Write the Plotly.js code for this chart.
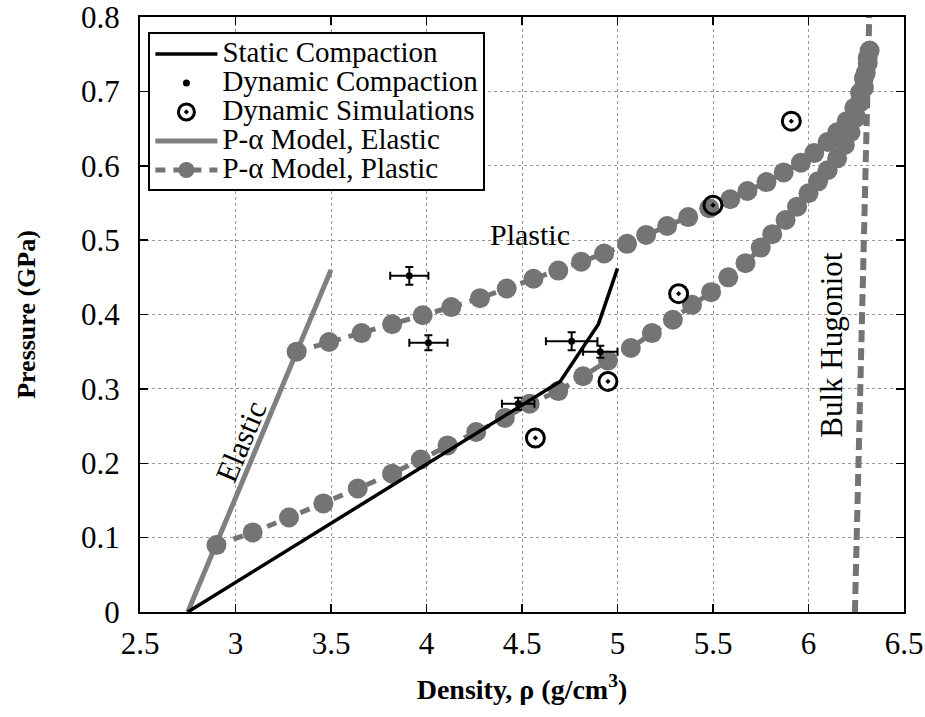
<!DOCTYPE html>
<html>
<head>
<meta charset="utf-8">
<script src="https://cdn.plot.ly/plotly-3.0.1.min.js"></script>
<style>html,body{margin:0;padding:0;background:#fff;}#chart{width:925px;height:717px;}</style>
</head>
<body>
<div id="chart"></div>
<script>
// ---- data ----
const staticX = [2.75, 4.70, 4.90, 5.00];
const staticY = [0.0, 0.310, 0.387, 0.462];

const dynX = [3.91, 4.01, 4.48, 4.76, 4.91];
const dynY = [0.452, 0.362, 0.280, 0.364, 0.350];
const dynXErr = [0.10, 0.10, 0.085, 0.135, 0.09];
const dynYErr = [0.012, 0.010, 0.008, 0.012, 0.008];

const simX = [4.57, 4.95, 5.32, 5.50, 5.91];
const simY = [0.234, 0.310, 0.428, 0.547, 0.660];

const elasticX = [2.75, 3.50];
const elasticY = [0.0, 0.46];

const plasticLowX = [2.90, 3.09, 3.28, 3.46, 3.64, 3.82, 3.97, 4.11, 4.26, 4.41, 4.54, 4.69, 4.82, 4.95, 5.07, 5.18, 5.29, 5.39, 5.49, 5.58, 5.67, 5.75, 5.81, 5.88, 5.94, 6.00, 6.05, 6.10, 6.15, 6.19, 6.22, 6.25, 6.27, 6.29, 6.30, 6.31];
const plasticLowY = [0.090, 0.107, 0.127, 0.146, 0.166, 0.186, 0.205, 0.224, 0.242, 0.261, 0.280, 0.297, 0.317, 0.338, 0.355, 0.375, 0.393, 0.413, 0.430, 0.450, 0.469, 0.490, 0.508, 0.527, 0.545, 0.563, 0.579, 0.594, 0.610, 0.628, 0.645, 0.665, 0.685, 0.705, 0.725, 0.745];

const plasticHighX = [3.32, 3.49, 3.66, 3.82, 3.98, 4.13, 4.28, 4.42, 4.56, 4.69, 4.81, 4.93, 5.05, 5.15, 5.26, 5.37, 5.48, 5.59, 5.68, 5.78, 5.87, 5.96, 6.03, 6.10, 6.15, 6.20, 6.24, 6.27, 6.29, 6.31, 6.32];
const plasticHighY = [0.350, 0.363, 0.375, 0.387, 0.399, 0.410, 0.422, 0.435, 0.448, 0.459, 0.471, 0.482, 0.495, 0.507, 0.519, 0.531, 0.543, 0.555, 0.566, 0.578, 0.591, 0.604, 0.617, 0.632, 0.645, 0.660, 0.678, 0.698, 0.718, 0.738, 0.755];

const hugX = [6.243, 6.262, 6.281, 6.300, 6.318];
const hugY = [0.0, 0.2, 0.4, 0.6, 0.8];

const xTicks = [2.5, 3, 3.5, 4, 4.5, 5, 5.5, 6, 6.5];
const yTicks = [0, 0.1, 0.2, 0.3, 0.4, 0.5, 0.6, 0.7, 0.8];

const seriesNames = ['Static Compaction', 'Dynamic Compaction', 'Dynamic Simulations', 'P-α Model, Elastic', 'P-α Model, Plastic'];

// ---- style ----
const FONT = "'Liberation Serif', 'Times New Roman', Times, serif";
const GRAY = '#747474';
const big = s => '<span style="font-size:29px">' + s + '</span>';

const traces = [
  {x: hugX, y: hugY, mode: 'lines', showlegend: false, hoverinfo: 'skip',
   line: {color: GRAY, width: 6, dash: '12px,6px'}},
  {x: elasticX, y: elasticY, mode: 'lines', name: big(seriesNames[3]), legendrank: 4,
   line: {color: '#808080', width: 5}},
  {x: plasticLowX, y: plasticLowY, mode: 'lines+markers', name: big(seriesNames[4]), legendrank: 5,
   line: {color: GRAY, width: 5, dash: '10px,8px'},
   marker: {color: GRAY, size: 20, symbol: 'circle'}},
  {x: plasticHighX, y: plasticHighY, mode: 'lines+markers', showlegend: false,
   line: {color: GRAY, width: 5, dash: '10px,8px'},
   marker: {color: GRAY, size: 20, symbol: 'circle'}},
  {x: staticX, y: staticY, mode: 'lines', name: big(seriesNames[0]), legendrank: 1,
   line: {color: '#000', width: 3.5}},
  {x: dynX, y: dynY, mode: 'markers', name: big(seriesNames[1]), legendrank: 2,
   marker: {color: '#000', size: 7},
   error_x: {type: 'data', array: dynXErr, visible: true, color: '#000', thickness: 2, width: 4},
   error_y: {type: 'data', array: dynYErr, visible: true, color: '#000', thickness: 2, width: 4}},
  {x: simX, y: simY, mode: 'markers', name: big(seriesNames[2]), legendrank: 3,
   marker: {color: '#000', size: 18, symbol: 'circle-open-dot', line: {color: '#000', width: 3}}}
];

const axisCommon = {
  showline: true, linecolor: '#000', linewidth: 2, mirror: 'ticks',
  ticks: 'inside', ticklen: 8, tickwidth: 1.5, tickcolor: '#000',
  showgrid: true, gridcolor: '#9a9a9a', gridwidth: 1, griddash: 'dot',
  zeroline: false, ticklabeloverflow: 'allow',
  tickfont: {family: FONT, size: 31, color: '#000'}
};

const layout = {
  width: 925, height: 717,
  paper_bgcolor: '#fff', plot_bgcolor: '#fff',
  margin: {l: 140, r: 21, t: 17, b: 105},
  font: {family: FONT, color: '#000'},
  xaxis: Object.assign({}, axisCommon, {
    range: [2.5, 6.5], tickvals: xTicks, ticktext: xTicks.map(String),
    ticklabelstandoff: 3,
    title: {text: '<b>Density, ρ (g/cm<sup>3</sup>)</b>', font: {family: FONT, size: 28}, standoff: 19}
  }),
  yaxis: Object.assign({}, axisCommon, {
    range: [0, 0.8], tickvals: yTicks, ticktext: yTicks.map(v => v === 0 ? '0' : v.toFixed(1)),
    ticklabelstandoff: 12,
    title: {text: '<b>Pressure (GPa)</b>', font: {family: FONT, size: 26}, standoff: 38}
  }),
  legend: {
    x: 0.011, y: 0.974, xanchor: 'left', yanchor: 'top',
    bgcolor: '#fff', bordercolor: '#000', borderwidth: 2,
    font: {family: FONT, size: 20, color: '#000'}, traceorder: 'normal',
    tracegroupgap: 0, itemwidth: 62
  },
  annotations: [
    {x: 3.03, y: 0.229, xref: 'x', yref: 'y', text: 'Elastic', showarrow: false, textangle: -67,
     font: {family: FONT, size: 31, color: '#000'}},
    {x: 4.54, y: 0.507, xref: 'x', yref: 'y', text: 'Plastic', showarrow: false,
     font: {family: FONT, size: 30, color: '#000'}},
    {x: 6.12, y: 0.36, xref: 'x', yref: 'y', text: 'Bulk Hugoniot', showarrow: false, textangle: -90,
     font: {family: FONT, size: 31, color: '#000'}}
  ],
  showlegend: true
};

Plotly.newPlot('chart', traces, layout, {displayModeBar: false, staticPlot: true});
</script>
</body>
</html>
